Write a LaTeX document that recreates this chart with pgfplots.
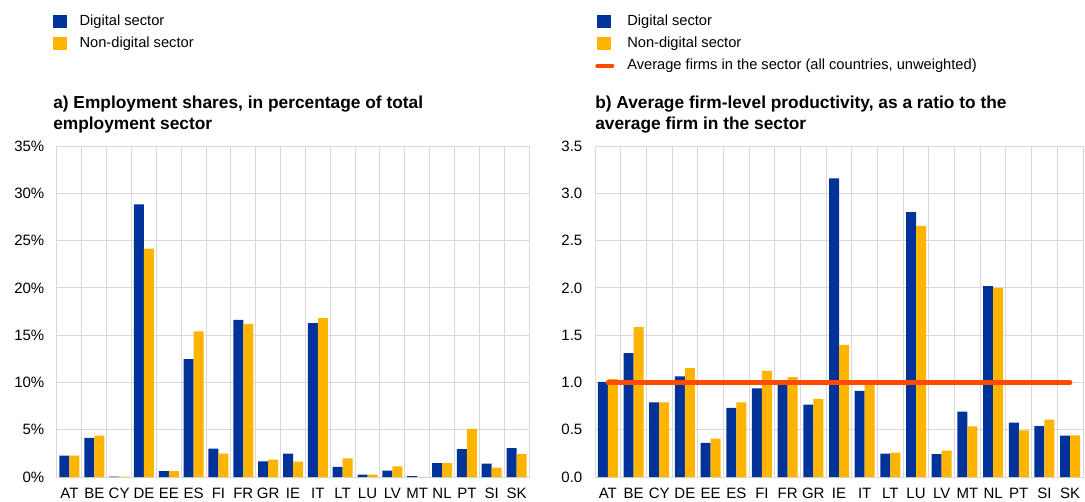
\documentclass[border=0pt]{standalone}
\usepackage{fontspec}
\setmainfont{Liberation Sans}
\usepackage{pgfplots}
\pgfplotsset{compat=1.18}

\definecolor{ecbblue}{HTML}{003299}
\definecolor{ecbyellow}{HTML}{FFB400}
\definecolor{ecbred}{HTML}{FF4B00}
\definecolor{gridgray}{HTML}{D9D9D9}

% 1 px of the reference = 0.75pt
\pgfplotsset{
  panel/.style={
    scale only axis,
    height=248.25pt,
    xmin=-0.5, xmax=18.5, ymin=0,
    xtick={0,...,18},
    xticklabels={AT,BE,CY,DE,EE,ES,FI,FR,GR,IE,IT,LT,LU,LV,MT,NL,PT,SI,SK},
    minor xtick={-0.5,0.5,...,18.5},
    xminorgrids, ymajorgrids,
    major tick length=0pt, minor tick length=0pt,
    axis line style={gridgray, line width=0.75pt},
    grid style={gridgray, line width=0.75pt},
    minor grid style={gridgray, line width=0.75pt},
    ticklabel style={font=\fontsize{11.25}{13}\selectfont},
    xticklabel style={yshift=-5pt},
    yticklabel style={xshift=-6pt},
    /pgf/number format/assume math mode=true,
    legend cell align=left,
    legend style={draw=none, fill=none, anchor=north west, inner sep=0pt,
      font=\fontsize{11}{13}\selectfont,
      nodes={inner sep=0pt, text height=8.5pt, text depth=2.5pt},
      row sep=5.6pt,
      /tikz/every odd column/.append style={column sep=9.75pt}},
    title style={anchor=north west, align=left, inner sep=0pt,
      font=\bfseries\fontsize{13}{15.75}\selectfont},
  },
  sqlegend/.style={legend image code/.code={
      \fill[##1] (0pt,-5.1pt) rectangle (10pt,5.1pt);}},
  linelegend/.style={legend image code/.code={
      \draw[##1, line width=3pt] (0pt,0pt) -- (11.25pt,0pt);}},
}

\begin{document}
\begin{tikzpicture}
\useasboundingbox (0,0) rectangle (813.75pt,-376.5pt);

% a) employment shares
\begin{axis}[panel,
  at={(42.75pt,-357.75pt)}, anchor=south west,
  width=354pt,
  ymax=35, ytick={0,5,...,35},
  yticklabel={\pgfmathprintnumber{\tick}\%},
  legend style={at={(-0.0085,1.399)}},
  title={a) Employment shares, in percentage of total\\employment sector},
  title style={at={(-0.0085,1.127)}},
]
\addplot[sqlegend, ybar, bar width=7.5pt, bar shift=-3.75pt, fill=ecbblue, draw=none]
coordinates {
  (0,2.25) (1,4.15) (2,0.03) (3,28.84) (4,0.63) (5,12.46) (6,2.99) (7,16.62) (8,1.65)
  (9,2.46) (10,16.27) (11,1.06) (12,0.25) (13,0.67) (14,0.10) (15,1.48) (16,2.96)
  (17,1.41) (18,3.06)
};
\addplot[sqlegend, ybar, bar width=7.5pt, bar shift=3.75pt, fill=ecbyellow, draw=none]
coordinates {
  (0,2.25) (1,4.37) (2,0.03) (3,24.15) (4,0.63) (5,15.39) (6,2.46) (7,16.20) (8,1.83)
  (9,1.62) (10,16.80) (11,1.97) (12,0.25) (13,1.13) (14,0.02) (15,1.48) (16,5.10)
  (17,0.99) (18,2.43)
};
\legend{Digital sector, Non-digital sector}
\end{axis}

% b) average firm-level productivity
\begin{axis}[panel,
  at={(446.25pt,-357.75pt)}, anchor=south west,
  width=366pt,
  ymax=3.5, ytick={0,0.5,...,3.5},
  yticklabel style={/pgf/number format/.cd, fixed, fixed zerofill, precision=1},
  legend style={at={(0,1.399)}},
  title={b) Average firm-level productivity, as a ratio to the\\average firm in the sector},
  title style={at={(0,1.127)}},
]
\addplot[sqlegend, ybar, bar width=7.5pt, bar shift=-3.75pt, fill=ecbblue, draw=none]
coordinates {
  (0,1.007) (1,1.31) (2,0.79) (3,1.063) (4,0.36) (5,0.73) (6,0.937) (7,0.99) (8,0.764)
  (9,3.158) (10,0.912) (11,0.246) (12,2.80) (13,0.243) (14,0.69) (15,2.018) (16,0.574)
  (17,0.539) (18,0.437)
};
\addplot[sqlegend, ybar, bar width=7.5pt, bar shift=3.75pt, fill=ecbyellow, draw=none]
coordinates {
  (0,1.035) (1,1.585) (2,0.79) (3,1.15) (4,0.405) (5,0.79) (6,1.123) (7,1.056) (8,0.827)
  (9,1.398) (10,0.986) (11,0.257) (12,2.655) (13,0.278) (14,0.535) (15,2.00) (16,0.493)
  (17,0.606) (18,0.44)
};
\addplot[linelegend, sharp plot, ecbred, line width=3.3pt, line cap=round]
coordinates {(0,1) (18,1)};
\legend{Digital sector, Non-digital sector, {Average firms in the sector (all countries, unweighted)}}
\end{axis}
\end{tikzpicture}
\end{document}
